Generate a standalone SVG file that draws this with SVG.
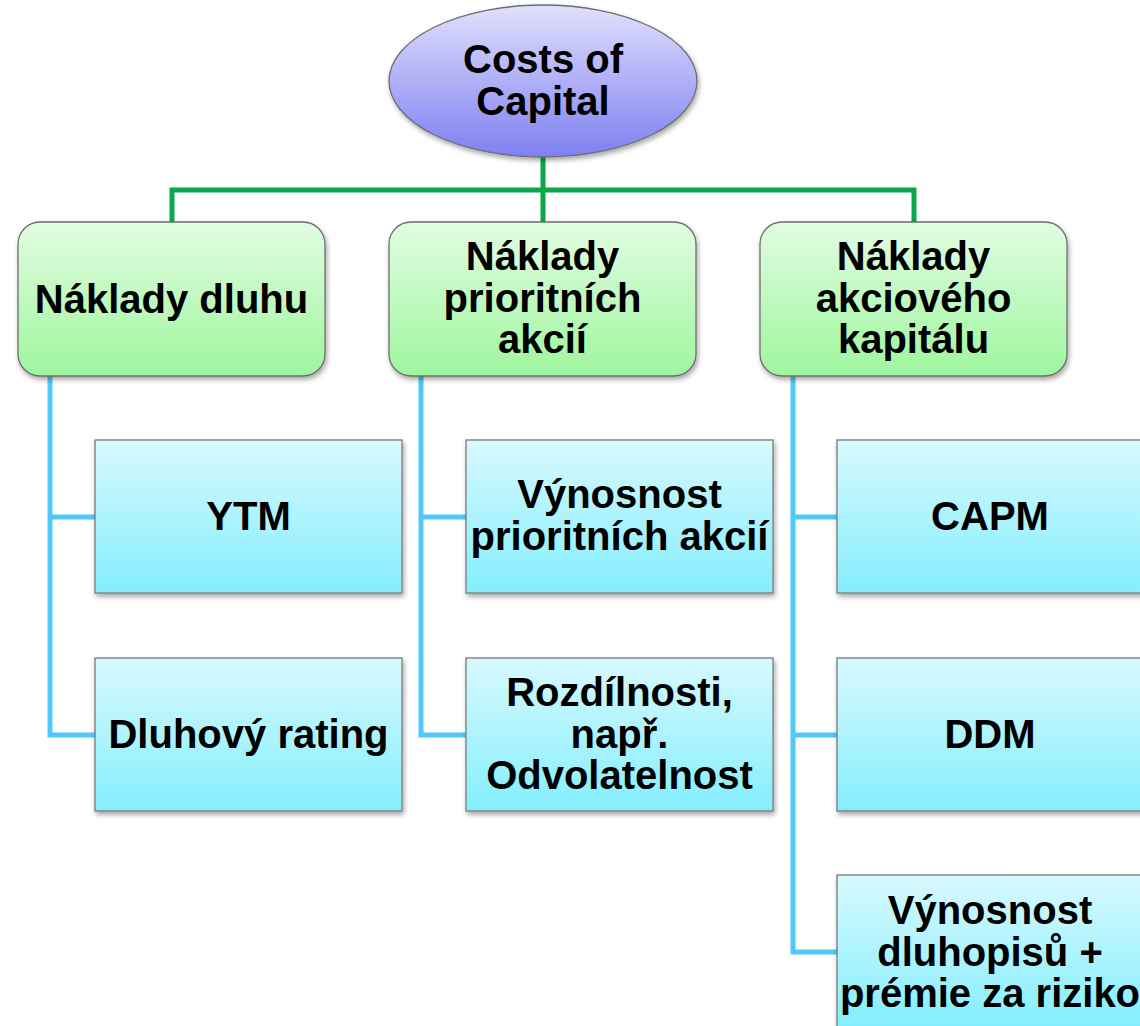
<svg xmlns="http://www.w3.org/2000/svg" width="1140" height="1026" viewBox="0 0 1140 1026">
<style>
.t{font-family:"Liberation Sans",Arial,Helvetica,sans-serif;font-weight:bold;font-size:40px;fill:#000;text-anchor:middle}
.g{fill:url(#gg);stroke:#6e6e6e;stroke-width:1.3;filter:url(#sh)}
.b{fill:url(#gb);stroke:#7a7a7a;stroke-width:1.3;filter:url(#sh)}
.cg{fill:none;stroke:#0aa84a;stroke-width:5}
.cb{fill:none;stroke:#50c8fa;stroke-width:5}
</style>
<defs>
<linearGradient id="ge" x1="0" y1="0" x2="0" y2="1"><stop offset="0" stop-color="#e0e0fc"/><stop offset="1" stop-color="#7f7ff2"/></linearGradient>
<linearGradient id="gg" x1="0" y1="0" x2="0" y2="1"><stop offset="0" stop-color="#e2fce2"/><stop offset="1" stop-color="#9ef69e"/></linearGradient>
<linearGradient id="gb" x1="0" y1="0" x2="0" y2="1"><stop offset="0" stop-color="#d8f9fe"/><stop offset="1" stop-color="#84eefd"/></linearGradient>
<filter id="sh" x="-10%" y="-10%" width="125%" height="130%"><feDropShadow dx="1.5" dy="3" stdDeviation="2.5" flood-color="#000" flood-opacity="0.35"/></filter>
</defs>
<rect width="1140" height="1026" fill="#fff"/>
<g id="connectors">
<path class="cg" d="M543 155V222M172 222V190H914V222"/>
<path class="cb" d="M50 376V735H95M50 517H95"/>
<path class="cb" d="M421 376V735H466M421 517H466"/>
<path class="cb" d="M793 376V952H837M793 517H837M793 735H837"/>
</g>
<g id="root">
<ellipse cx="543" cy="81" rx="154" ry="76" fill="url(#ge)" stroke="#6e6e6e" stroke-width="1.3" filter="url(#sh)"/>
<text class="t" x="543" y="73">Costs of</text>
<text class="t" x="543" y="115">Capital</text>
</g>
<g id="n1">
<rect class="g" x="18" y="222" width="307" height="154" rx="22"/>
<text class="t" x="171.5" y="313">Náklady dluhu</text>
</g>
<g id="n2">
<rect class="g" x="389" y="222" width="307" height="154" rx="22"/>
<text class="t" x="542.5" y="270">Náklady</text>
<text class="t" x="542.5" y="312">prioritních</text>
<text class="t" x="542.5" y="353">akcií</text>
</g>
<g id="n3">
<rect class="g" x="760" y="222" width="307" height="154" rx="22"/>
<text class="t" x="913.5" y="270">Náklady</text>
<text class="t" x="913.5" y="312">akciového</text>
<text class="t" x="913.5" y="353">kapitálu</text>
</g>
<g id="n1a">
<rect class="b" x="95" y="440" width="307" height="153"/>
<text class="t" x="248.5" y="530">YTM</text>
</g>
<g id="n1b">
<rect class="b" x="95" y="658" width="307" height="153"/>
<text class="t" x="248.5" y="748">Dluhový rating</text>
</g>
<g id="n2a">
<rect class="b" x="466" y="440" width="307" height="153"/>
<text class="t" x="619.5" y="508">Výnosnost</text>
<text class="t" x="619.5" y="550">prioritních akcií</text>
</g>
<g id="n2b">
<rect class="b" x="466" y="658" width="307" height="153"/>
<text class="t" x="619.5" y="706">Rozdílnosti,</text>
<text class="t" x="619.5" y="748">např.</text>
<text class="t" x="619.5" y="789">Odvolatelnost</text>
</g>
<g id="n3a">
<rect class="b" x="837" y="440" width="307" height="153"/>
<text class="t" x="990" y="530">CAPM</text>
</g>
<g id="n3b">
<rect class="b" x="837" y="658" width="307" height="153"/>
<text class="t" x="990" y="748">DDM</text>
</g>
<g id="n3c">
<rect class="b" x="837" y="875" width="307" height="153"/>
<text class="t" x="990" y="924">Výnosnost</text>
<text class="t" x="990" y="966">dluhopisů +</text>
<text class="t" x="990" y="1007">prémie za riziko</text>
</g>
</svg>
